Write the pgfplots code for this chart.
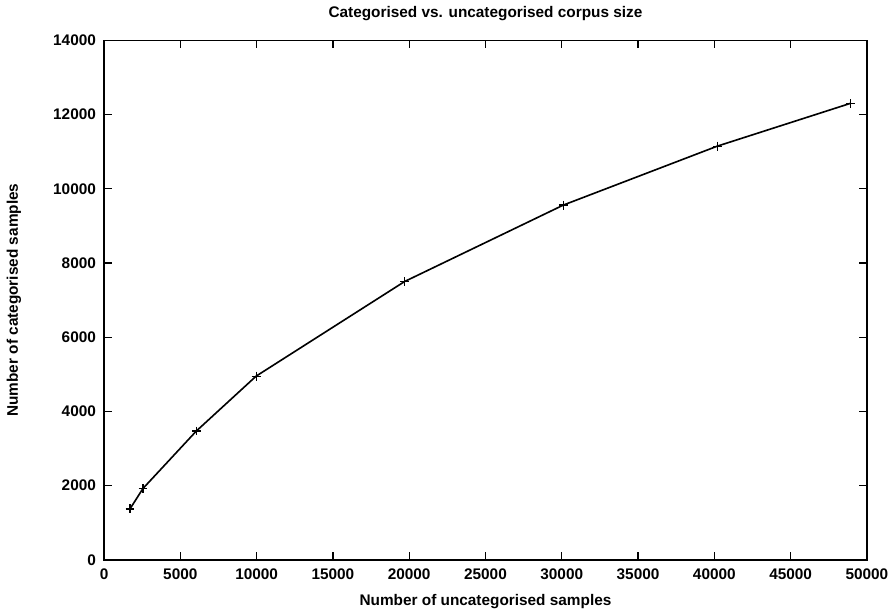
\documentclass[border=0pt]{standalone}
\usepackage{fontspec}
\setmainfont{Liberation Sans}
\usepackage{pgfplots}
\pgfplotsset{compat=1.18}

\begin{document}
\begin{tikzpicture}
\begin{axis}[
  width=377.5pt, height=257pt,
  scale only axis,
  xmin=0, xmax=50000,
  ymin=0, ymax=14000,
  xtick distance=5000,
  ytick distance=2000,
  tick align=inside,
  major tick length=4pt,
  axis line style={line width=0.8pt},
  every tick/.style={black, line width=0.6pt},
  scaled ticks=false,
  /pgf/number format/assume math mode=true,
  xticklabel={\pgfmathprintnumber[fixed,1000 sep={}]{\tick}},
  yticklabel={\pgfmathprintnumber[fixed,1000 sep={}]{\tick}},
  tick label style={font=\fontsize{7.6}{8}\selectfont\bfseries},
  xticklabel style={yshift=-1pt},
  yticklabel style={xshift=-0.5pt},
  label style={font=\fontsize{7.6}{8}\selectfont\bfseries},
  title style={font=\fontsize{7.6}{8}\selectfont\bfseries, yshift=0pt},
  title={Categorised vs. uncategorised corpus size},
  xlabel={Number of uncategorised samples},
  ylabel={Number of categorised samples},
  xlabel style={yshift=-0.5pt},
  ylabel style={yshift=9pt},
]
\addplot[black, line width=0.8pt, mark=+, mark size=2.2pt,
  mark options={line width=0.6pt}] coordinates {
  (1700,1370)
  (2550,1920)
  (6050,3470)
  (9970,4950)
  (19700,7500)
  (30100,9560)
  (40200,11150)
  (48900,12300)
};
\end{axis}
\end{tikzpicture}
\end{document}
